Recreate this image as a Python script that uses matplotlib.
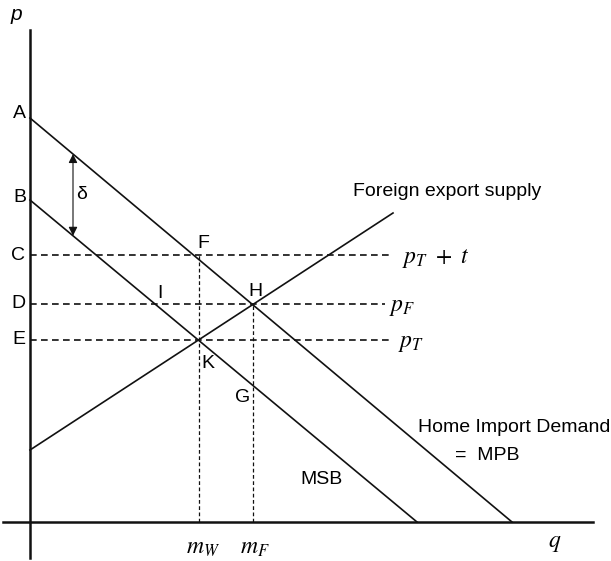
import matplotlib
matplotlib.use("Agg")
import matplotlib.pyplot as plt

plt.rcParams['font.family'] = ['Liberation Sans', 'DejaVu Sans']
plt.rcParams['mathtext.fontset'] = 'stix'

# curve end points (q, p)
demand_q = [0, 48.2]
demand_p = [40.4, 0]
msb_q = [0, 38.7]
msb_p = [32.2, 0]
supply_q = [0, 36.3]
supply_p = [7.2, 30.9]

# price levels C, D, E and where their dashed lines stop
price_names = ['C', 'D', 'E']
price_levels = [26.7, 21.8, 18.2]
price_dash_end = [36.2, 35.5, 36.2]
price_labels = [r'$p_T\ +\ t$', r'$p_F$', r'$p_T$']
price_label_q = [37.2, 35.9, 36.8]

# quantities m_W, m_F and the price each vertical line rises to
qty_levels = [16.9, 22.3]
qty_tops = [26.7, 21.8]
qty_labels = [r'$m_W$', r'$m_F$']

# intercepts on the p axis
intercept_names = ['A', 'B']
intercept_p = [40.9, 32.4]

# point letters
point_names = ['F', 'I', 'H', 'K', 'G']
point_q = [17.3, 13.0, 22.5, 17.8, 21.3]
point_p = [27.9, 22.9, 23.0, 15.9, 12.4]

delta_q = 4.3

fig = plt.figure(figsize=(6.11, 5.61), dpi=100)
ax = fig.add_axes([0, 0, 1, 1])
ax.set_xlim(-3.0, 58.1)
ax.set_ylim(-3.9, 52.2)
ax.axis('off')

ink = '#111111'

# axes
ax.plot([0, 0], [-3.6, 49.2], color=ink, lw=1.8)
ax.plot([-2.7, 56.3], [0, 0], color=ink, lw=1.8)
ax.text(-1.4, 50.7, 'p', fontsize=15, style='italic', ha='center', va='center')
ax.text(52.5, -2.1, r'$q$', fontsize=17, ha='center', va='center')

# curves
ax.plot(demand_q, demand_p, color=ink, lw=1.2)
ax.plot(msb_q, msb_p, color=ink, lw=1.2)
ax.plot(supply_q, supply_p, color=ink, lw=1.2)

# horizontal price lines
for name, lev, end, lab, lq in zip(price_names, price_levels, price_dash_end,
                                   price_labels, price_label_q):
    ax.plot([0, end], [lev, lev], color=ink, lw=1.2, linestyle=(0, (4, 2.6)))
    ax.text(-0.5, lev, name, fontsize=14, ha='right', va='center')
    ax.text(lq, lev, lab, fontsize=17, ha='left', va='center_baseline')

# vertical quantity lines
for qv, top, lab in zip(qty_levels, qty_tops, qty_labels):
    ax.plot([qv, qv], [0, top], color=ink, lw=0.9, linestyle=(0, (3, 2)))
    ax.text(qv - 1.3, -2.6, lab, fontsize=17, ha='left', va='center')

for name, pv in zip(intercept_names, intercept_p):
    ax.text(-0.4, pv, name, fontsize=14, ha='right', va='center')

for name, qv, pv in zip(point_names, point_q, point_p):
    ax.text(qv, pv, name, fontsize=14, ha='center', va='center')

# delta arrow between demand and MSB
slope_d = (demand_p[1] - demand_p[0]) / (demand_q[1] - demand_q[0])
slope_s = (msb_p[1] - msb_p[0]) / (msb_q[1] - msb_q[0])
top = demand_p[0] + slope_d * delta_q
bot = msb_p[0] + slope_s * delta_q
ax.annotate('', xy=(delta_q, top), xytext=(delta_q, bot),
            arrowprops=dict(arrowstyle='<|-|>', color=ink, lw=0.8,
                            mutation_scale=13, shrinkA=0, shrinkB=0))
ax.text(5.2, (top + bot) / 2, 'δ', fontsize=14, ha='center', va='center')

# curve names
ax.text(32.3, 33.0, 'Foreign export supply', fontsize=14, ha='left', va='center')
ax.text(38.8, 9.5, 'Home Import Demand', fontsize=14, ha='left', va='center')
ax.text(45.7, 6.7, '=  MPB', fontsize=14, ha='center', va='center')
ax.text(29.1, 4.2, 'MSB', fontsize=14, ha='center', va='center')

fig.savefig('out.png', dpi=100)
